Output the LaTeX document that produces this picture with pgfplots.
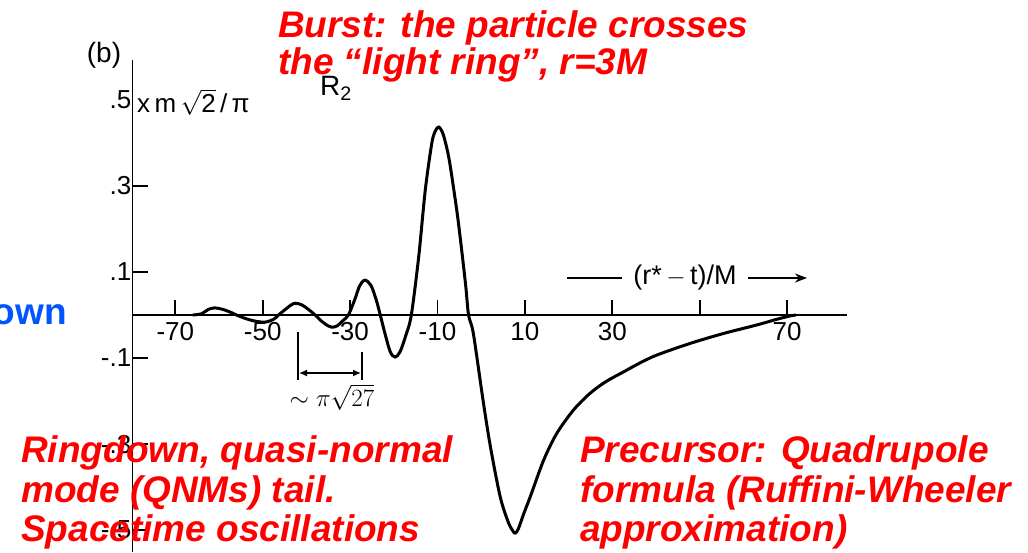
\documentclass[border=0pt]{standalone}
\usepackage{pgfplots}
\pgfplotsset{compat=1.18}
\usepackage{fontspec}
\setmainfont{Liberation Sans}
\usetikzlibrary{arrows.meta}
\definecolor{annred}{RGB}{255,0,0}
\definecolor{annblue}{RGB}{0,85,255}
\begin{document}
\begin{tikzpicture}
\path[use as bounding box] (0pt,0pt) rectangle (1028pt,552pt);
\begin{axis}[
  at={(132.5pt,0pt)}, anchor=south west,
  scale only axis, width=714.5pt, height=492pt,
  xmin=-79.8, xmax=83.7, ymin=-0.551, ymax=0.593,
  axis x line=middle, axis y line=left,
  axis line style={-, line width=1.8pt, black},
  tick style={line width=1.8pt, black},
  major tick length=15pt,
  tick align=inside,
  xtick={-70,-50,-30,-10,10,30,50,70},
  xticklabels={-70,-50,-30,-10,10,30,{},70},
  ytick={-0.5,-0.3,-0.1,0.1,0.3},
  yticklabels={-.5,-.3,-.1,.1,.3},
  extra y ticks={0.5},
  extra y tick labels={.5},
  extra y tick style={major tick length=0pt},
  /pgf/number format/assume math mode=true,
  tick label style={font=\fontsize{26}{28}\selectfont},
  xticklabel style={anchor=north, inner sep=2pt, yshift=-5pt},
  yticklabel style={anchor=east, inner sep=1pt},
  clip=false,
]
\addplot[black, line width=3pt, smooth, tension=0.5] coordinates {
(-66,0) (-64,0.003) (-62.5,0.0127) (-61,0.0166) (-59,0.0127) (-57,0.0049)
(-56,0) (-54,-0.0078) (-52,-0.0137) (-49.5,-0.0166) (-47.5,-0.0098)
(-46.4,0) (-45,0.0117) (-43.5,0.0234) (-42.5,0.0274) (-41,0.0234) (-39.5,0.0127)
(-38,0) (-36.5,-0.0147) (-35,-0.0254) (-34.2,-0.0283) (-33,-0.0254) (-31.5,-0.0117)
(-30.4,0) (-29,0.0342) (-27.8,0.0684) (-26.6,0.0811) (-25.2,0.0684) (-24,0.0342)
(-23.1,0) (-22,-0.044) (-20.8,-0.086) (-19.7,-0.0977) (-18.6,-0.086) (-17.3,-0.0489)
(-16,0) (-14.3,0.136) (-12.8,0.291) (-11.3,0.400) (-10.5,0.428) (-9.7,0.437)
(-8.7,0.420) (-7.45,0.368) (-6.3,0.293) (-5.2,0.213) (-3.6,0.073)
(-2.9,0) (-1.8,-0.043) (0.4,-0.197) (2.1,-0.306) (4.35,-0.423) (6.2,-0.482)
(7.3,-0.503) (7.8,-0.507) (8.5,-0.497) (9.8,-0.46) (11.2,-0.423) (14.3,-0.337)
(17.3,-0.275) (21.1,-0.221) (24.9,-0.182) (28.5,-0.155) (32.6,-0.132)
(36.4,-0.111) (40.2,-0.093) (47.8,-0.066) (55.4,-0.043) (63.1,-0.023)
(67.6,-0.010) (70.7,-0.002) (72,0)
};
\end{axis}
% black annotations from the original figure
\node[font=\fontsize{28}{30}\selectfont] at (104pt,497pt) {(b)};
\node[font=\fontsize{26}{28}\selectfont, anchor=west, inner sep=0pt] at (137pt,450pt) {x\,m\,$\sqrt{\mbox{2}}$\,/\,π};
\node[font=\fontsize{28}{30}\selectfont] at (336pt,464pt) {R\textsubscript{2}};
\draw[line width=1.8pt] (567pt,274pt) -- (622pt,274pt);
\node[font=\fontsize{27}{28}\selectfont] at (685pt,274pt) {(r*\,$-$\,t)/M};
\draw[line width=1.8pt, -{Stealth[length=12pt,width=9pt]}] (748pt,274pt) -- (807pt,274pt);
\draw[line width=1.8pt] (298pt,220pt) -- (298pt,172pt);
\draw[line width=1.8pt] (362pt,200pt) -- (362pt,172pt);
\draw[line width=1.5pt, {Latex[length=8pt,width=7pt]}-{Latex[length=8pt,width=7pt]}] (299pt,179pt) -- (361pt,179pt);
\node[font=\fontsize{25}{28}\selectfont] at (332pt,155pt) {$\sim\pi\sqrt{27}$};
% slide annotations
\begin{scope}[every node/.style={anchor=base west, inner sep=0pt, text=annred, font=\fontsize{37}{39}\selectfont\bfseries\itshape}]
\node at (278pt,514pt) {Burst: the particle crosses};
\node at (278pt,477pt) {the “light ring”, r=3M};
\node at (21pt,90pt) {Ringdown, quasi-normal};
\node at (21pt,50pt) {mode (QNMs) tail.};
\node at (21pt,11pt) {Spacetime oscillations};
\node at (580pt,90pt) {Precursor: Quadrupole};
\node at (580pt,50pt) {formula (Ruffini-Wheeler};
\node at (580pt,11pt) {approximation)};
\end{scope}
\node[anchor=base east, inner sep=0pt, text=annblue, font=\fontsize{37}{39}\selectfont\bfseries] at (67pt,227pt) {own};
\end{tikzpicture}
\end{document}
